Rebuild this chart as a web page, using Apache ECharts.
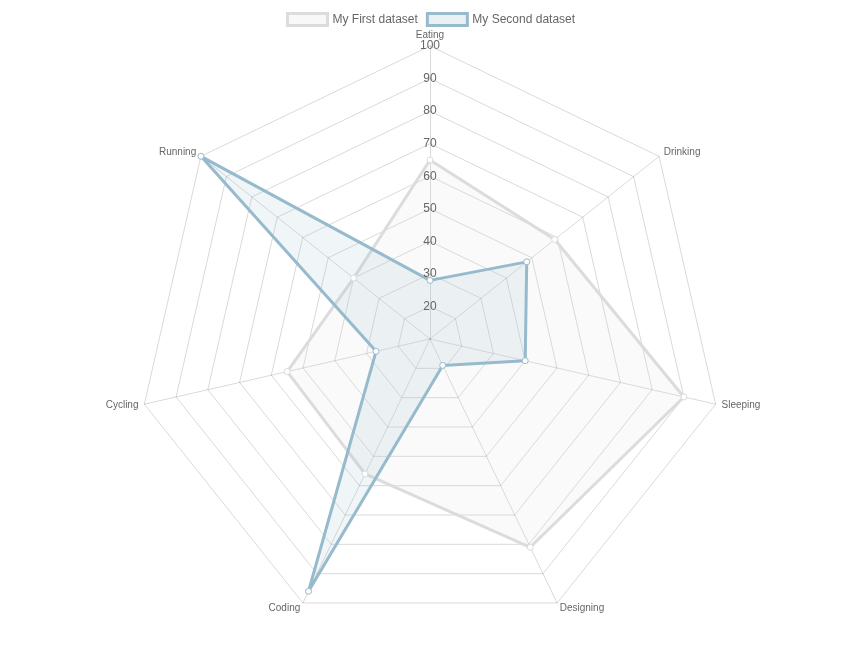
<!DOCTYPE html>
<html>
<head>
<meta charset="utf-8">
<script src="https://cdn.jsdelivr.net/npm/echarts@6/dist/echarts.min.js"></script>
<style>
  html, body { margin: 0; padding: 0; background: #fff; }
  #main { width: 860px; height: 645px; }
</style>
</head>
<body>
<div id="main"></div>
<script>
var categorias = ['Eating', 'Drinking', 'Sleeping', 'Designing', 'Coding', 'Cycling', 'Running'];
var primerDataset = [65, 59, 90, 81, 56, 55, 40];
var segundoDataset = [28, 48, 40, 19, 96, 27, 100];
var nombresSeries = ['My First dataset', 'My Second dataset'];
var escalaMin = 10;
var escalaMax = 100;
var escalaPaso = 10;

var chart = echarts.init(document.getElementById('main'));

// el radar de echarts va en sentido antihorario, asi que se invierte el orden
// (el primero se queda arriba) para que quede en sentido horario
function horario(arr) {
  return [arr[0]].concat(arr.slice(1).reverse());
}

// colores de cada dataset (borde y relleno)
var gris = 'rgba(220,220,220,1)';
var grisRelleno = 'rgba(220,220,220,0.2)';
var azul = 'rgba(151,187,205,1)';
var azulRelleno = 'rgba(151,187,205,0.2)';
var lineaGrid = 'rgba(0,0,0,0.15)';

var centro = [430, 339];
var radio = 293;

var option = {
  backgroundColor: '#fff',
  textStyle: { fontFamily: 'Liberation Sans, Arial, sans-serif' },
  legend: {
    top: 7,
    left: 281,
    itemWidth: 40,
    itemHeight: 12,
    itemGap: 8,
    icon: 'rect',
    textStyle: { fontSize: 12, color: '#666' },
    data: [
      { name: nombresSeries[0], itemStyle: { color: grisRelleno, borderColor: gris, borderWidth: 3 } },
      { name: nombresSeries[1], itemStyle: { color: azulRelleno, borderColor: azul, borderWidth: 3 } }
    ]
  },
  radar: {
    center: centro,
    radius: radio,
    startAngle: 90,
    shape: 'polygon',
    splitNumber: (escalaMax - escalaMin) / escalaPaso,
    indicator: horario(categorias).map(function (c) {
      return { name: c, min: escalaMin, max: escalaMax };
    }),
    axisName: { color: '#666', fontSize: 10 },
    nameGap: 6,
    axisLine: { lineStyle: { color: lineaGrid, width: 1 } },
    splitLine: { lineStyle: { color: lineaGrid, width: 1 } },
    splitArea: { show: false },
    axisLabel: { show: false }
  },
  // polar solo para poner los numeros de la escala sobre el eje de Eating
  polar: { center: centro, radius: radio },
  angleAxis: { startAngle: 90, show: false, min: 0, max: 360 },
  radiusAxis: {
    min: escalaMin,
    max: escalaMax,
    interval: escalaPaso,
    axisLine: { show: false },
    axisTick: { show: false },
    splitLine: { show: false },
    axisLabel: {
      show: true,
      margin: 0,
      rotate: 0,
      align: 'center',
      verticalAlign: 'middle',
      fontSize: 12,
      color: '#666',
      formatter: function (value) {
        return value === escalaMin ? '' : value;
      }
    },
    z: 10
  },
  series: [
    {
      name: nombresSeries[0],
      type: 'radar',
      symbol: 'circle',
      symbolSize: 6,
      lineStyle: { color: gris, width: 3 },
      areaStyle: { color: grisRelleno },
      itemStyle: { color: '#fff', borderColor: gris, borderWidth: 1 },
      data: [{ value: horario(primerDataset), name: nombresSeries[0] }]
    },
    {
      name: nombresSeries[1],
      type: 'radar',
      symbol: 'circle',
      symbolSize: 6,
      lineStyle: { color: azul, width: 3 },
      areaStyle: { color: azulRelleno },
      itemStyle: { color: '#fff', borderColor: azul, borderWidth: 1 },
      data: [{ value: horario(segundoDataset), name: nombresSeries[1] }]
    }
  ]
};

chart.setOption(option);
</script>
</body>
</html>
